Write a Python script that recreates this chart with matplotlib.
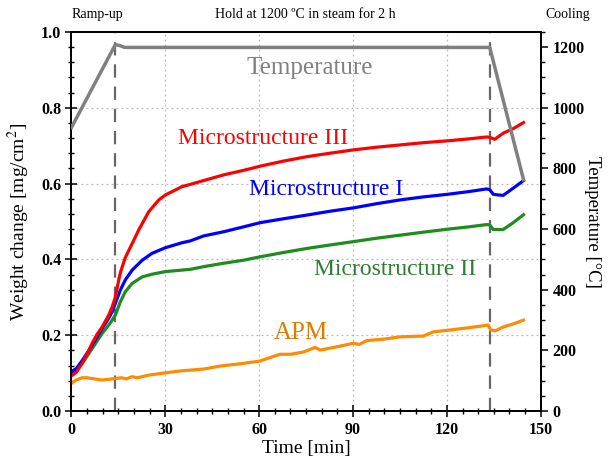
import matplotlib
matplotlib.use("Agg")
import matplotlib.pyplot as plt
from matplotlib.ticker import MultipleLocator

# ---------------- data ----------------
t_red = [0.3, 1.5, 3.4, 5, 6.6, 8.2, 9.8, 11.9, 13, 14.0, 14.6, 15.2, 15.8, 17.2, 19.4, 21.5, 24.7, 27.9, 30,
         35.3, 38, 42.2, 48.6, 55, 60.3, 67.5, 75.2, 82.5, 90.1, 97.5, 105, 112.5, 120.4, 127,
         132.7, 133.7, 135.3, 138, 141.2, 144.5]
w_red = [0.095, 0.102, 0.126, 0.150, 0.179, 0.203, 0.222, 0.253, 0.275, 0.300, 0.325, 0.350, 0.370, 0.405, 0.442,
         0.478, 0.526, 0.557, 0.570, 0.592, 0.598, 0.608, 0.623, 0.635, 0.646, 0.659, 0.671, 0.680,
         0.689, 0.696, 0.702, 0.708, 0.713, 0.718, 0.723, 0.722, 0.717, 0.733, 0.745, 0.761]

t_blue = [0.3, 1.5, 3.4, 5, 6.6, 8.2, 9.8, 11.9, 13, 14, 15.6, 17.2, 19.4, 22.6, 25.7, 30, 35.3, 38,
          42.2, 48.6, 55, 60.3, 67.5, 75.2, 82.5, 90.1, 97.5, 105, 112.5, 120.4, 127, 132.7, 133.7,
          134.8, 136.5, 138, 141.2, 144.5]
w_blue = [0.106, 0.112, 0.133, 0.153, 0.174, 0.196, 0.218, 0.245, 0.262, 0.284, 0.319, 0.346, 0.372,
          0.398, 0.416, 0.431, 0.444, 0.449, 0.462, 0.473, 0.486, 0.497, 0.507, 0.517, 0.527, 0.536,
          0.547, 0.557, 0.565, 0.572, 0.579, 0.586, 0.584, 0.572, 0.570, 0.569, 0.588, 0.608]

t_green = [0.3, 1.5, 3.4, 5, 6.6, 8.2, 9.8, 11.9, 13, 14, 15.6, 17.2, 19.4, 22.6, 25.7, 30, 35.3, 38,
           42.2, 48.6, 55, 60.3, 67.5, 75.2, 82.5, 90.1, 97.5, 105, 112.5, 120.4, 127, 132.7, 133.7,
           134.8, 138, 141.2, 144.5]
w_green = [0.101, 0.108, 0.126, 0.145, 0.165, 0.185, 0.205, 0.227, 0.240, 0.253, 0.288, 0.315, 0.337,
           0.354, 0.361, 0.368, 0.372, 0.374, 0.381, 0.390, 0.398, 0.407, 0.418, 0.429, 0.438, 0.447,
           0.456, 0.464, 0.472, 0.480, 0.486, 0.492, 0.491, 0.479, 0.479, 0.497, 0.518]

t_apm = [0.3, 1.5, 3.4, 5, 6.6, 8.2, 9.8, 11.9, 14, 16, 17.5, 19.4, 21, 24.7, 30, 34.8, 42.2, 47.6,
         54, 60.3, 63, 66.7, 70, 74.2, 77.9, 79.5, 85, 90.1, 92, 94.4, 100, 105, 112.5, 115.6, 121,
         127, 133.2, 134, 135.5, 138, 141.2, 144.5]
w_apm = [0.075, 0.082, 0.088, 0.088, 0.086, 0.084, 0.082, 0.084, 0.086, 0.088, 0.085, 0.091, 0.088,
         0.095, 0.101, 0.106, 0.111, 0.119, 0.125, 0.132, 0.140, 0.150, 0.150, 0.156, 0.168, 0.161,
         0.170, 0.179, 0.176, 0.186, 0.190, 0.196, 0.198, 0.209, 0.214, 0.220, 0.227, 0.214, 0.212,
         0.222, 0.230, 0.240]

t_temp = [0, 14, 15.5, 17, 133.7, 144.5]
temp_c = [935, 1208, 1205, 1199, 1199, 763]

phase_lines = [14, 133.7]
phase_labels = ["Ramp-up", "Hold at 1200 \u00baC in steam for 2 h", "Cooling"]
phase_label_x = [8.3, 74.7, 158.6]

x_ticks = [0, 30, 60, 90, 120, 150]
y_ticks = [0.0, 0.2, 0.4, 0.6, 0.8, 1.0]
t_ticks = [0, 200, 400, 600, 800, 1000, 1200]

# ---------------- style ----------------
plt.rcParams['font.family'] = ['Liberation Serif', 'DejaVu Serif']
plt.rcParams['mathtext.fontset'] = 'stix'

RED = '#ff0000'
BLUE = '#0000ff'
GREEN = '#1e8c1e'
ORANGE = '#ff8c00'
GRAY = '#808080'

fig = plt.figure(figsize=(6.11, 4.63), dpi=100)
ax = fig.add_axes([0.117, 0.112, 0.768, 0.819])
ax2 = ax.twinx()

ax.set_xlim(0, 150)
ax.set_ylim(0, 1.0)
ax2.set_ylim(0, 1250)

# grid
for xv in x_ticks[1:-1]:
    ax.axvline(xv, color='#b8b8b8', lw=0.9, ls=(0, (1.5, 2.5)), zorder=0)
for yv in y_ticks[1:-1]:
    ax.axhline(yv, color='#b8b8b8', lw=0.9, ls=(0, (1.5, 2.5)), zorder=0)

for xv in phase_lines:
    ax.axvline(xv, color='#666666', lw=1.6, ls=(0, (6, 4)), zorder=1)

lw = 2.3
ax.plot(t_apm, w_apm, color=ORANGE, lw=lw, zorder=3)
ax.plot(t_green, w_green, color=GREEN, lw=lw, zorder=3)
ax.plot(t_blue, w_blue, color=BLUE, lw=lw, zorder=3)
ax.plot(t_red, w_red, color=RED, lw=lw, zorder=3)
ax2.plot(t_temp, temp_c, color=GRAY, lw=2.5, zorder=3)

# in-plot labels
ax.text(76.3, 0.905, "Temperature", color=GRAY, fontsize=18, ha='center', va='center')
ax.text(61.3, 0.72, "Microstructure III", color=RED, fontsize=17, ha='center', va='center')
ax.text(81.5, 0.585, "Microstructure I", color=BLUE, fontsize=17, ha='center', va='center')
ax.text(103.4, 0.374, "Microstructure II", color='#2e7d32', fontsize=17, ha='center', va='center')
ax.text(73.4, 0.205, "APM", color='#e07b00', fontsize=18, ha='center', va='center')

for lx, lab in zip(phase_label_x, phase_labels):
    ax.text(lx, 1.045, lab, fontsize=10, ha='center', va='center', clip_on=False)

# ticks
ax.set_xticks(x_ticks)
ax.set_yticks(y_ticks)
ax2.set_yticks(t_ticks)
ax.xaxis.set_minor_locator(MultipleLocator(5))
ax.yaxis.set_minor_locator(MultipleLocator(0.04))
ax2.yaxis.set_minor_locator(MultipleLocator(50))
ax.set_yticklabels([f"{v:.1f}" for v in y_ticks])

ax.tick_params(axis='both', which='major', direction='inout', length=8, width=1.1,
               labelsize=11.5, top=False, right=False)
ax.tick_params(axis='both', which='minor', direction='inout', length=4, width=1.0,
               top=False, right=False)
ax2.tick_params(axis='y', which='major', direction='out', length=5, width=1.1, labelsize=11.5)
ax2.tick_params(axis='y', which='minor', direction='out', length=3, width=1.0)

for lab in ax.get_xticklabels() + ax.get_yticklabels() + ax2.get_yticklabels():
    lab.set_fontweight('bold')

for a in (ax, ax2):
    for s in a.spines.values():
        s.set_linewidth(1.3)

ax.set_xlabel("Time [min]", fontsize=14, labelpad=2)
ax.set_ylabel("Weight change [mg/cm$^2$]", fontsize=14, labelpad=6)
ax2.set_ylabel("Temperature [\u00b0C]", fontsize=13.5, rotation=270, labelpad=12)

fig.savefig("out.png", dpi=100)
